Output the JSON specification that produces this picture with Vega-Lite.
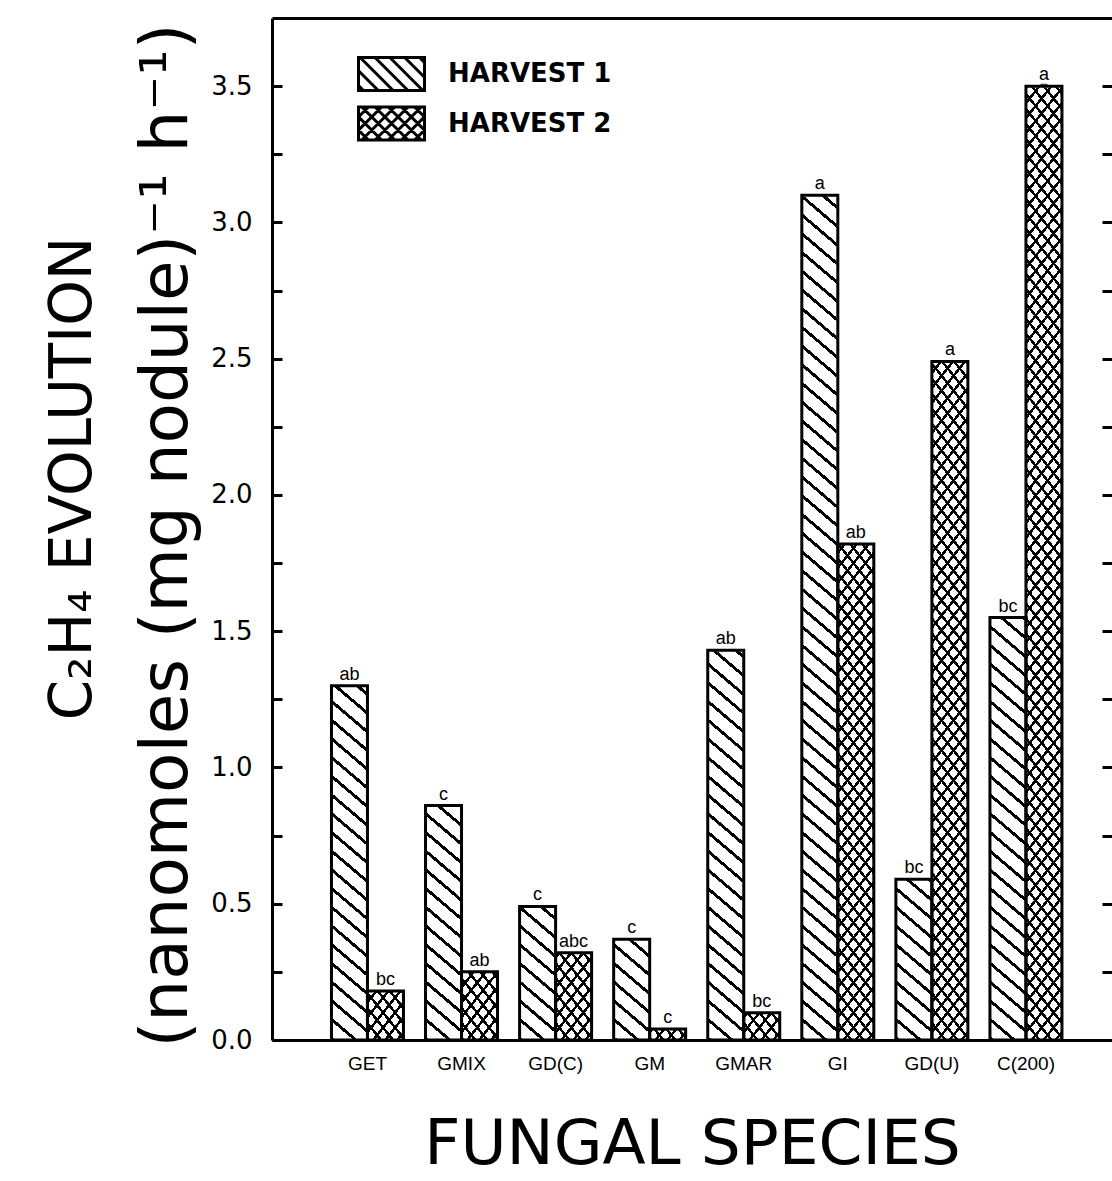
{
"$schema": "https://vega.github.io/schema/vega-lite/v6.json",
"width": 840, "height": 1022,
"autosize": {"type": "none"},
"padding": {"left": 272, "top": 18, "right": 0, "bottom": 141},
"background": "white",
"data": {"values": [
{"species": "GET", "harvest": "HARVEST 1", "value": 1.30, "letter": "ab"},
{"species": "GET", "harvest": "HARVEST 2", "value": 0.18, "letter": "bc"},
{"species": "GMIX", "harvest": "HARVEST 1", "value": 0.86, "letter": "c"},
{"species": "GMIX", "harvest": "HARVEST 2", "value": 0.25, "letter": "ab"},
{"species": "GD(C)", "harvest": "HARVEST 1", "value": 0.49, "letter": "c"},
{"species": "GD(C)", "harvest": "HARVEST 2", "value": 0.32, "letter": "abc"},
{"species": "GM", "harvest": "HARVEST 1", "value": 0.37, "letter": "c"},
{"species": "GM", "harvest": "HARVEST 2", "value": 0.04, "letter": "c"},
{"species": "GMAR", "harvest": "HARVEST 1", "value": 1.43, "letter": "ab"},
{"species": "GMAR", "harvest": "HARVEST 2", "value": 0.10, "letter": "bc"},
{"species": "GI", "harvest": "HARVEST 1", "value": 3.10, "letter": "a"},
{"species": "GI", "harvest": "HARVEST 2", "value": 1.82, "letter": "ab"},
{"species": "GD(U)", "harvest": "HARVEST 1", "value": 0.59, "letter": "bc"},
{"species": "GD(U)", "harvest": "HARVEST 2", "value": 2.49, "letter": "a"},
{"species": "C(200)", "harvest": "HARVEST 1", "value": 1.55, "letter": "bc"},
{"species": "C(200)", "harvest": "HARVEST 2", "value": 3.50, "letter": "a"}
]},
"resolve": {"axis": {"x": "independent", "y": "independent"}},
"layer": [
{
"mark": {"type": "point", "filled": false, "color": "black", "strokeWidth": 3, "size": 4},
"encoding": {
"x": {"field": "species", "type": "nominal", "axis": null},
"xOffset": {"field": "harvest", "type": "nominal"},
"y": {"field": "value", "type": "quantitative", "axis": null},
"shape": {"field": "harvest", "type": "nominal", "scale": {"domain": ["HARVEST 1", "HARVEST 2"], "range": [
"M-2,-1H2V1H-2ZM-2,0.7L-1.7,1M-2,-0.2L-0.8,1M-1.9,-1L0.1,1M-1,-1L1,1M-0.1,-1L1.9,1M0.8,-1L2,0.2M1.7,-1L2,-0.7",
"M-2,-1H2V1H-2ZM-2,0.4L-1.4,1M-2,-0.4L-0.6,1M-1.8,-1L0.2,1M-1,-1L1,1M-0.2,-1L1.8,1M0.6,-1L2,0.4M1.4,-1L2,-0.4M-2,-0.4L-1.4,-1M-2,0.4L-0.6,-1M-1.8,1L0.2,-1M-1,1L1,-1M-0.2,1L1.8,-1M0.6,1L2,-0.4M1.4,1L2,0.4"]},
"legend": {"orient": "none", "legendX": 101.5, "legendY": 38, "title": null, "padding": 0, "symbolSize": 1089, "symbolStrokeWidth": 3, "symbolStrokeColor": "black", "symbolOpacity": 1, "labelFontSize": 26, "labelFont": "DejaVu Sans", "labelFontWeight": "bold", "labelColor": "black", "labelOffset": 38.5, "labelLimit": 400, "rowPadding": 3.5}}
}
},
{
"transform": [{"filter": "datum.harvest === 'HARVEST 1'"}],
"mark": {"type": "bar", "strokeWidth": 0, "fill": {"gradient": "linear", "x1": 0, "y1": 1, "x2": 0.0331, "y2": -0.0311, "stops": [
{"offset":0,"color":"#fff"},{"offset":0,"color":"#000"},{"offset":0.004,"color":"#000"},{"offset":0.004,"color":"#fff"},
{"offset":0.019,"color":"#fff"},{"offset":0.019,"color":"#000"},{"offset":0.023,"color":"#000"},{"offset":0.023,"color":"#fff"},
{"offset":0.038,"color":"#fff"},{"offset":0.038,"color":"#000"},{"offset":0.042,"color":"#000"},{"offset":0.042,"color":"#fff"},
{"offset":0.057,"color":"#fff"},{"offset":0.057,"color":"#000"},{"offset":0.061,"color":"#000"},{"offset":0.061,"color":"#fff"},
{"offset":0.076,"color":"#fff"},{"offset":0.076,"color":"#000"},{"offset":0.08,"color":"#000"},{"offset":0.08,"color":"#fff"},
{"offset":0.095,"color":"#fff"},{"offset":0.095,"color":"#000"},{"offset":0.099,"color":"#000"},{"offset":0.099,"color":"#fff"},
{"offset":0.114,"color":"#fff"},{"offset":0.114,"color":"#000"},{"offset":0.118,"color":"#000"},{"offset":0.118,"color":"#fff"},
{"offset":0.133,"color":"#fff"},{"offset":0.133,"color":"#000"},{"offset":0.137,"color":"#000"},{"offset":0.137,"color":"#fff"},
{"offset":0.152,"color":"#fff"},{"offset":0.152,"color":"#000"},{"offset":0.156,"color":"#000"},{"offset":0.156,"color":"#fff"},
{"offset":0.171,"color":"#fff"},{"offset":0.171,"color":"#000"},{"offset":0.175,"color":"#000"},{"offset":0.175,"color":"#fff"},
{"offset":0.19,"color":"#fff"},{"offset":0.19,"color":"#000"},{"offset":0.194,"color":"#000"},{"offset":0.194,"color":"#fff"},
{"offset":0.209,"color":"#fff"},{"offset":0.209,"color":"#000"},{"offset":0.213,"color":"#000"},{"offset":0.213,"color":"#fff"},
{"offset":0.228,"color":"#fff"},{"offset":0.228,"color":"#000"},{"offset":0.232,"color":"#000"},{"offset":0.232,"color":"#fff"},
{"offset":0.247,"color":"#fff"},{"offset":0.247,"color":"#000"},{"offset":0.251,"color":"#000"},{"offset":0.251,"color":"#fff"},
{"offset":0.266,"color":"#fff"},{"offset":0.266,"color":"#000"},{"offset":0.27,"color":"#000"},{"offset":0.27,"color":"#fff"},
{"offset":0.285,"color":"#fff"},{"offset":0.285,"color":"#000"},{"offset":0.289,"color":"#000"},{"offset":0.289,"color":"#fff"},
{"offset":0.304,"color":"#fff"},{"offset":0.304,"color":"#000"},{"offset":0.308,"color":"#000"},{"offset":0.308,"color":"#fff"},
{"offset":0.323,"color":"#fff"},{"offset":0.323,"color":"#000"},{"offset":0.327,"color":"#000"},{"offset":0.327,"color":"#fff"},
{"offset":0.342,"color":"#fff"},{"offset":0.342,"color":"#000"},{"offset":0.346,"color":"#000"},{"offset":0.346,"color":"#fff"},
{"offset":0.361,"color":"#fff"},{"offset":0.361,"color":"#000"},{"offset":0.365,"color":"#000"},{"offset":0.365,"color":"#fff"},
{"offset":0.38,"color":"#fff"},{"offset":0.38,"color":"#000"},{"offset":0.384,"color":"#000"},{"offset":0.384,"color":"#fff"},
{"offset":0.399,"color":"#fff"},{"offset":0.399,"color":"#000"},{"offset":0.403,"color":"#000"},{"offset":0.403,"color":"#fff"},
{"offset":0.418,"color":"#fff"},{"offset":0.418,"color":"#000"},{"offset":0.422,"color":"#000"},{"offset":0.422,"color":"#fff"},
{"offset":0.437,"color":"#fff"},{"offset":0.437,"color":"#000"},{"offset":0.441,"color":"#000"},{"offset":0.441,"color":"#fff"},
{"offset":0.456,"color":"#fff"},{"offset":0.456,"color":"#000"},{"offset":0.46,"color":"#000"},{"offset":0.46,"color":"#fff"},
{"offset":0.475,"color":"#fff"},{"offset":0.475,"color":"#000"},{"offset":0.479,"color":"#000"},{"offset":0.479,"color":"#fff"},
{"offset":0.494,"color":"#fff"},{"offset":0.494,"color":"#000"},{"offset":0.498,"color":"#000"},{"offset":0.498,"color":"#fff"},
{"offset":0.513,"color":"#fff"},{"offset":0.513,"color":"#000"},{"offset":0.517,"color":"#000"},{"offset":0.517,"color":"#fff"},
{"offset":0.532,"color":"#fff"},{"offset":0.532,"color":"#000"},{"offset":0.536,"color":"#000"},{"offset":0.536,"color":"#fff"},
{"offset":0.551,"color":"#fff"},{"offset":0.551,"color":"#000"},{"offset":0.555,"color":"#000"},{"offset":0.555,"color":"#fff"},
{"offset":0.57,"color":"#fff"},{"offset":0.57,"color":"#000"},{"offset":0.574,"color":"#000"},{"offset":0.574,"color":"#fff"},
{"offset":0.589,"color":"#fff"},{"offset":0.589,"color":"#000"},{"offset":0.593,"color":"#000"},{"offset":0.593,"color":"#fff"},
{"offset":0.608,"color":"#fff"},{"offset":0.608,"color":"#000"},{"offset":0.612,"color":"#000"},{"offset":0.612,"color":"#fff"},
{"offset":0.627,"color":"#fff"},{"offset":0.627,"color":"#000"},{"offset":0.631,"color":"#000"},{"offset":0.631,"color":"#fff"},
{"offset":0.646,"color":"#fff"},{"offset":0.646,"color":"#000"},{"offset":0.65,"color":"#000"},{"offset":0.65,"color":"#fff"},
{"offset":0.665,"color":"#fff"},{"offset":0.665,"color":"#000"},{"offset":0.669,"color":"#000"},{"offset":0.669,"color":"#fff"},
{"offset":0.684,"color":"#fff"},{"offset":0.684,"color":"#000"},{"offset":0.688,"color":"#000"},{"offset":0.688,"color":"#fff"},
{"offset":0.703,"color":"#fff"},{"offset":0.703,"color":"#000"},{"offset":0.707,"color":"#000"},{"offset":0.707,"color":"#fff"},
{"offset":0.722,"color":"#fff"},{"offset":0.722,"color":"#000"},{"offset":0.726,"color":"#000"},{"offset":0.726,"color":"#fff"},
{"offset":0.741,"color":"#fff"},{"offset":0.741,"color":"#000"},{"offset":0.745,"color":"#000"},{"offset":0.745,"color":"#fff"},
{"offset":0.76,"color":"#fff"},{"offset":0.76,"color":"#000"},{"offset":0.764,"color":"#000"},{"offset":0.764,"color":"#fff"},
{"offset":0.779,"color":"#fff"},{"offset":0.779,"color":"#000"},{"offset":0.783,"color":"#000"},{"offset":0.783,"color":"#fff"},
{"offset":0.798,"color":"#fff"},{"offset":0.798,"color":"#000"},{"offset":0.802,"color":"#000"},{"offset":0.802,"color":"#fff"},
{"offset":0.817,"color":"#fff"},{"offset":0.817,"color":"#000"},{"offset":0.821,"color":"#000"},{"offset":0.821,"color":"#fff"},
{"offset":0.836,"color":"#fff"},{"offset":0.836,"color":"#000"},{"offset":0.84,"color":"#000"},{"offset":0.84,"color":"#fff"},
{"offset":0.855,"color":"#fff"},{"offset":0.855,"color":"#000"},{"offset":0.859,"color":"#000"},{"offset":0.859,"color":"#fff"},
{"offset":0.874,"color":"#fff"},{"offset":0.874,"color":"#000"},{"offset":0.878,"color":"#000"},{"offset":0.878,"color":"#fff"},
{"offset":0.893,"color":"#fff"},{"offset":0.893,"color":"#000"},{"offset":0.897,"color":"#000"},{"offset":0.897,"color":"#fff"},
{"offset":0.912,"color":"#fff"},{"offset":0.912,"color":"#000"},{"offset":0.916,"color":"#000"},{"offset":0.916,"color":"#fff"},
{"offset":0.931,"color":"#fff"},{"offset":0.931,"color":"#000"},{"offset":0.935,"color":"#000"},{"offset":0.935,"color":"#fff"},
{"offset":0.95,"color":"#fff"},{"offset":0.95,"color":"#000"},{"offset":0.954,"color":"#000"},{"offset":0.954,"color":"#fff"},
{"offset":0.969,"color":"#fff"},{"offset":0.969,"color":"#000"},{"offset":0.973,"color":"#000"},{"offset":0.973,"color":"#fff"},
{"offset":0.988,"color":"#fff"},{"offset":0.988,"color":"#000"},{"offset":0.992,"color":"#000"},{"offset":0.992,"color":"#fff"}
]}},
"encoding": {
"x": {"field": "species", "type": "nominal", "scale": {"domain": ["GET","GMIX","GD(C)","GM","GMAR","GI","GD(U)","C(200)"], "paddingInner": 0.2346, "paddingOuter": 0.582, "align": 0.543},
"axis": {"orient": "bottom", "title": "FUNGAL SPECIES", "titleFont": "DejaVu Sans", "titleFontSize": 63, "titleFontWeight": "normal", "titleColor": "black", "titleY": 123, "titleBaseline": "alphabetic", "labelAngle": 0, "labelFont": "Liberation Sans", "labelFontSize": 19, "labelPadding": 14, "labelColor": "black", "ticks": false, "domainWidth": 3, "domainColor": "black", "grid": false, "zindex": 1}},
"xOffset": {"field": "harvest", "type": "nominal", "scale": {"domain": ["HARVEST 1","HARVEST 2"], "paddingInner": 0, "paddingOuter": 0}},
"y": {"datum": 3.5, "type": "quantitative", "scale": {"domain": [0, 3.75], "nice": false, "zero": true},
"axis": {"orient": "left", "values": [0,0.25,0.5,0.75,1,1.25,1.5,1.75,2,2.25,2.5,2.75,3,3.25,3.5], "labelExpr": "datum.value % 0.5 === 0 ? format(datum.value, '.1f') : ''", "labelOverlap": false, "labelFlush": false, "labelFont": "DejaVu Sans", "labelFontSize": 26, "labelPadding": 30, "labelColor": "black", "tickSize": -10, "tickWidth": 3, "tickColor": "black", "domainWidth": 3, "domainColor": "black", "grid": false,
"title": "(nanomoles (mg nodule)⁻¹ h⁻¹)", "titleFont": "DejaVu Sans", "titleFontSize": 66, "titleFontWeight": "normal", "titleColor": "black", "titleAngle": 270, "titleAlign": "center", "titleBaseline": "alphabetic", "titleX": -86, "titleY": 517, "zindex": 1}},
"y2": {"datum": 0}
}
},
{
"transform": [{"filter": "datum.harvest === 'HARVEST 2'"}],
"mark": {"type": "bar", "strokeWidth": 0, "fill": {"gradient": "linear", "x1": 0, "y1": 1, "x2": 0.0493, "y2": -0.045, "stops": [
{"offset":0,"color":"#fff"},{"offset":0,"color":"#000"},{"offset":0.004,"color":"#000"},{"offset":0.004,"color":"#fff"},
{"offset":0.015,"color":"#fff"},{"offset":0.015,"color":"#000"},{"offset":0.019,"color":"#000"},{"offset":0.019,"color":"#fff"},
{"offset":0.03,"color":"#fff"},{"offset":0.03,"color":"#000"},{"offset":0.034,"color":"#000"},{"offset":0.034,"color":"#fff"},
{"offset":0.045,"color":"#fff"},{"offset":0.045,"color":"#000"},{"offset":0.049,"color":"#000"},{"offset":0.049,"color":"#fff"},
{"offset":0.06,"color":"#fff"},{"offset":0.06,"color":"#000"},{"offset":0.064,"color":"#000"},{"offset":0.064,"color":"#fff"},
{"offset":0.075,"color":"#fff"},{"offset":0.075,"color":"#000"},{"offset":0.079,"color":"#000"},{"offset":0.079,"color":"#fff"},
{"offset":0.09,"color":"#fff"},{"offset":0.09,"color":"#000"},{"offset":0.094,"color":"#000"},{"offset":0.094,"color":"#fff"},
{"offset":0.105,"color":"#fff"},{"offset":0.105,"color":"#000"},{"offset":0.109,"color":"#000"},{"offset":0.109,"color":"#fff"},
{"offset":0.12,"color":"#fff"},{"offset":0.12,"color":"#000"},{"offset":0.124,"color":"#000"},{"offset":0.124,"color":"#fff"},
{"offset":0.135,"color":"#fff"},{"offset":0.135,"color":"#000"},{"offset":0.139,"color":"#000"},{"offset":0.139,"color":"#fff"},
{"offset":0.15,"color":"#fff"},{"offset":0.15,"color":"#000"},{"offset":0.154,"color":"#000"},{"offset":0.154,"color":"#fff"},
{"offset":0.165,"color":"#fff"},{"offset":0.165,"color":"#000"},{"offset":0.169,"color":"#000"},{"offset":0.169,"color":"#fff"},
{"offset":0.18,"color":"#fff"},{"offset":0.18,"color":"#000"},{"offset":0.184,"color":"#000"},{"offset":0.184,"color":"#fff"},
{"offset":0.195,"color":"#fff"},{"offset":0.195,"color":"#000"},{"offset":0.199,"color":"#000"},{"offset":0.199,"color":"#fff"},
{"offset":0.21,"color":"#fff"},{"offset":0.21,"color":"#000"},{"offset":0.214,"color":"#000"},{"offset":0.214,"color":"#fff"},
{"offset":0.225,"color":"#fff"},{"offset":0.225,"color":"#000"},{"offset":0.229,"color":"#000"},{"offset":0.229,"color":"#fff"},
{"offset":0.24,"color":"#fff"},{"offset":0.24,"color":"#000"},{"offset":0.244,"color":"#000"},{"offset":0.244,"color":"#fff"},
{"offset":0.255,"color":"#fff"},{"offset":0.255,"color":"#000"},{"offset":0.259,"color":"#000"},{"offset":0.259,"color":"#fff"},
{"offset":0.27,"color":"#fff"},{"offset":0.27,"color":"#000"},{"offset":0.274,"color":"#000"},{"offset":0.274,"color":"#fff"},
{"offset":0.285,"color":"#fff"},{"offset":0.285,"color":"#000"},{"offset":0.289,"color":"#000"},{"offset":0.289,"color":"#fff"},
{"offset":0.3,"color":"#fff"},{"offset":0.3,"color":"#000"},{"offset":0.304,"color":"#000"},{"offset":0.304,"color":"#fff"},
{"offset":0.315,"color":"#fff"},{"offset":0.315,"color":"#000"},{"offset":0.319,"color":"#000"},{"offset":0.319,"color":"#fff"},
{"offset":0.33,"color":"#fff"},{"offset":0.33,"color":"#000"},{"offset":0.334,"color":"#000"},{"offset":0.334,"color":"#fff"},
{"offset":0.345,"color":"#fff"},{"offset":0.345,"color":"#000"},{"offset":0.349,"color":"#000"},{"offset":0.349,"color":"#fff"},
{"offset":0.36,"color":"#fff"},{"offset":0.36,"color":"#000"},{"offset":0.364,"color":"#000"},{"offset":0.364,"color":"#fff"},
{"offset":0.375,"color":"#fff"},{"offset":0.375,"color":"#000"},{"offset":0.379,"color":"#000"},{"offset":0.379,"color":"#fff"},
{"offset":0.39,"color":"#fff"},{"offset":0.39,"color":"#000"},{"offset":0.394,"color":"#000"},{"offset":0.394,"color":"#fff"},
{"offset":0.405,"color":"#fff"},{"offset":0.405,"color":"#000"},{"offset":0.409,"color":"#000"},{"offset":0.409,"color":"#fff"},
{"offset":0.42,"color":"#fff"},{"offset":0.42,"color":"#000"},{"offset":0.424,"color":"#000"},{"offset":0.424,"color":"#fff"},
{"offset":0.435,"color":"#fff"},{"offset":0.435,"color":"#000"},{"offset":0.439,"color":"#000"},{"offset":0.439,"color":"#fff"},
{"offset":0.45,"color":"#fff"},{"offset":0.45,"color":"#000"},{"offset":0.454,"color":"#000"},{"offset":0.454,"color":"#fff"},
{"offset":0.465,"color":"#fff"},{"offset":0.465,"color":"#000"},{"offset":0.469,"color":"#000"},{"offset":0.469,"color":"#fff"},
{"offset":0.48,"color":"#fff"},{"offset":0.48,"color":"#000"},{"offset":0.484,"color":"#000"},{"offset":0.484,"color":"#fff"},
{"offset":0.495,"color":"#fff"},{"offset":0.495,"color":"#000"},{"offset":0.499,"color":"#000"},{"offset":0.499,"color":"#fff"},
{"offset":0.51,"color":"#fff"},{"offset":0.51,"color":"#000"},{"offset":0.514,"color":"#000"},{"offset":0.514,"color":"#fff"},
{"offset":0.525,"color":"#fff"},{"offset":0.525,"color":"#000"},{"offset":0.529,"color":"#000"},{"offset":0.529,"color":"#fff"},
{"offset":0.54,"color":"#fff"},{"offset":0.54,"color":"#000"},{"offset":0.544,"color":"#000"},{"offset":0.544,"color":"#fff"},
{"offset":0.555,"color":"#fff"},{"offset":0.555,"color":"#000"},{"offset":0.559,"color":"#000"},{"offset":0.559,"color":"#fff"},
{"offset":0.57,"color":"#fff"},{"offset":0.57,"color":"#000"},{"offset":0.574,"color":"#000"},{"offset":0.574,"color":"#fff"},
{"offset":0.585,"color":"#fff"},{"offset":0.585,"color":"#000"},{"offset":0.589,"color":"#000"},{"offset":0.589,"color":"#fff"},
{"offset":0.6,"color":"#fff"},{"offset":0.6,"color":"#000"},{"offset":0.604,"color":"#000"},{"offset":0.604,"color":"#fff"},
{"offset":0.615,"color":"#fff"},{"offset":0.615,"color":"#000"},{"offset":0.619,"color":"#000"},{"offset":0.619,"color":"#fff"},
{"offset":0.63,"color":"#fff"},{"offset":0.63,"color":"#000"},{"offset":0.634,"color":"#000"},{"offset":0.634,"color":"#fff"},
{"offset":0.645,"color":"#fff"},{"offset":0.645,"color":"#000"},{"offset":0.649,"color":"#000"},{"offset":0.649,"color":"#fff"},
{"offset":0.66,"color":"#fff"},{"offset":0.66,"color":"#000"},{"offset":0.664,"color":"#000"},{"offset":0.664,"color":"#fff"},
{"offset":0.675,"color":"#fff"},{"offset":0.675,"color":"#000"},{"offset":0.679,"color":"#000"},{"offset":0.679,"color":"#fff"},
{"offset":0.69,"color":"#fff"},{"offset":0.69,"color":"#000"},{"offset":0.694,"color":"#000"},{"offset":0.694,"color":"#fff"},
{"offset":0.705,"color":"#fff"},{"offset":0.705,"color":"#000"},{"offset":0.709,"color":"#000"},{"offset":0.709,"color":"#fff"},
{"offset":0.72,"color":"#fff"},{"offset":0.72,"color":"#000"},{"offset":0.724,"color":"#000"},{"offset":0.724,"color":"#fff"},
{"offset":0.735,"color":"#fff"},{"offset":0.735,"color":"#000"},{"offset":0.739,"color":"#000"},{"offset":0.739,"color":"#fff"},
{"offset":0.75,"color":"#fff"},{"offset":0.75,"color":"#000"},{"offset":0.754,"color":"#000"},{"offset":0.754,"color":"#fff"},
{"offset":0.765,"color":"#fff"},{"offset":0.765,"color":"#000"},{"offset":0.769,"color":"#000"},{"offset":0.769,"color":"#fff"},
{"offset":0.78,"color":"#fff"},{"offset":0.78,"color":"#000"},{"offset":0.784,"color":"#000"},{"offset":0.784,"color":"#fff"},
{"offset":0.795,"color":"#fff"},{"offset":0.795,"color":"#000"},{"offset":0.799,"color":"#000"},{"offset":0.799,"color":"#fff"},
{"offset":0.81,"color":"#fff"},{"offset":0.81,"color":"#000"},{"offset":0.814,"color":"#000"},{"offset":0.814,"color":"#fff"},
{"offset":0.825,"color":"#fff"},{"offset":0.825,"color":"#000"},{"offset":0.829,"color":"#000"},{"offset":0.829,"color":"#fff"},
{"offset":0.84,"color":"#fff"},{"offset":0.84,"color":"#000"},{"offset":0.844,"color":"#000"},{"offset":0.844,"color":"#fff"},
{"offset":0.855,"color":"#fff"},{"offset":0.855,"color":"#000"},{"offset":0.859,"color":"#000"},{"offset":0.859,"color":"#fff"},
{"offset":0.87,"color":"#fff"},{"offset":0.87,"color":"#000"},{"offset":0.874,"color":"#000"},{"offset":0.874,"color":"#fff"},
{"offset":0.885,"color":"#fff"},{"offset":0.885,"color":"#000"},{"offset":0.889,"color":"#000"},{"offset":0.889,"color":"#fff"},
{"offset":0.9,"color":"#fff"},{"offset":0.9,"color":"#000"},{"offset":0.904,"color":"#000"},{"offset":0.904,"color":"#fff"},
{"offset":0.915,"color":"#fff"},{"offset":0.915,"color":"#000"},{"offset":0.919,"color":"#000"},{"offset":0.919,"color":"#fff"},
{"offset":0.93,"color":"#fff"},{"offset":0.93,"color":"#000"},{"offset":0.934,"color":"#000"},{"offset":0.934,"color":"#fff"},
{"offset":0.945,"color":"#fff"},{"offset":0.945,"color":"#000"},{"offset":0.949,"color":"#000"},{"offset":0.949,"color":"#fff"},
{"offset":0.96,"color":"#fff"},{"offset":0.96,"color":"#000"},{"offset":0.964,"color":"#000"},{"offset":0.964,"color":"#fff"},
{"offset":0.975,"color":"#fff"},{"offset":0.975,"color":"#000"},{"offset":0.979,"color":"#000"},{"offset":0.979,"color":"#fff"},
{"offset":0.99,"color":"#fff"},{"offset":0.99,"color":"#000"},{"offset":0.994,"color":"#000"},{"offset":0.994,"color":"#fff"}
]}},
"encoding": {
"x": {"field": "species", "type": "nominal", "axis": null},
"xOffset": {"field": "harvest", "type": "nominal"},
"y": {"datum": 3.5, "type": "quantitative", "axis": null},
"y2": {"datum": 0}
}
},
{
"transform": [{"filter": "datum.harvest === 'HARVEST 2'"}],
"mark": {"type": "bar", "strokeWidth": 0, "fill": {"gradient": "linear", "x1": 0, "y1": 0, "x2": 0.0493, "y2": 1.045, "stops": [
{"offset":0,"color":"#0000"},{"offset":0,"color":"#000"},{"offset":0.004,"color":"#000"},{"offset":0.004,"color":"#0000"},
{"offset":0.015,"color":"#0000"},{"offset":0.015,"color":"#000"},{"offset":0.019,"color":"#000"},{"offset":0.019,"color":"#0000"},
{"offset":0.03,"color":"#0000"},{"offset":0.03,"color":"#000"},{"offset":0.034,"color":"#000"},{"offset":0.034,"color":"#0000"},
{"offset":0.045,"color":"#0000"},{"offset":0.045,"color":"#000"},{"offset":0.049,"color":"#000"},{"offset":0.049,"color":"#0000"},
{"offset":0.06,"color":"#0000"},{"offset":0.06,"color":"#000"},{"offset":0.064,"color":"#000"},{"offset":0.064,"color":"#0000"},
{"offset":0.075,"color":"#0000"},{"offset":0.075,"color":"#000"},{"offset":0.079,"color":"#000"},{"offset":0.079,"color":"#0000"},
{"offset":0.09,"color":"#0000"},{"offset":0.09,"color":"#000"},{"offset":0.094,"color":"#000"},{"offset":0.094,"color":"#0000"},
{"offset":0.105,"color":"#0000"},{"offset":0.105,"color":"#000"},{"offset":0.109,"color":"#000"},{"offset":0.109,"color":"#0000"},
{"offset":0.12,"color":"#0000"},{"offset":0.12,"color":"#000"},{"offset":0.124,"color":"#000"},{"offset":0.124,"color":"#0000"},
{"offset":0.135,"color":"#0000"},{"offset":0.135,"color":"#000"},{"offset":0.139,"color":"#000"},{"offset":0.139,"color":"#0000"},
{"offset":0.15,"color":"#0000"},{"offset":0.15,"color":"#000"},{"offset":0.154,"color":"#000"},{"offset":0.154,"color":"#0000"},
{"offset":0.165,"color":"#0000"},{"offset":0.165,"color":"#000"},{"offset":0.169,"color":"#000"},{"offset":0.169,"color":"#0000"},
{"offset":0.18,"color":"#0000"},{"offset":0.18,"color":"#000"},{"offset":0.184,"color":"#000"},{"offset":0.184,"color":"#0000"},
{"offset":0.195,"color":"#0000"},{"offset":0.195,"color":"#000"},{"offset":0.199,"color":"#000"},{"offset":0.199,"color":"#0000"},
{"offset":0.21,"color":"#0000"},{"offset":0.21,"color":"#000"},{"offset":0.214,"color":"#000"},{"offset":0.214,"color":"#0000"},
{"offset":0.225,"color":"#0000"},{"offset":0.225,"color":"#000"},{"offset":0.229,"color":"#000"},{"offset":0.229,"color":"#0000"},
{"offset":0.24,"color":"#0000"},{"offset":0.24,"color":"#000"},{"offset":0.244,"color":"#000"},{"offset":0.244,"color":"#0000"},
{"offset":0.255,"color":"#0000"},{"offset":0.255,"color":"#000"},{"offset":0.259,"color":"#000"},{"offset":0.259,"color":"#0000"},
{"offset":0.27,"color":"#0000"},{"offset":0.27,"color":"#000"},{"offset":0.274,"color":"#000"},{"offset":0.274,"color":"#0000"},
{"offset":0.285,"color":"#0000"},{"offset":0.285,"color":"#000"},{"offset":0.289,"color":"#000"},{"offset":0.289,"color":"#0000"},
{"offset":0.3,"color":"#0000"},{"offset":0.3,"color":"#000"},{"offset":0.304,"color":"#000"},{"offset":0.304,"color":"#0000"},
{"offset":0.315,"color":"#0000"},{"offset":0.315,"color":"#000"},{"offset":0.319,"color":"#000"},{"offset":0.319,"color":"#0000"},
{"offset":0.33,"color":"#0000"},{"offset":0.33,"color":"#000"},{"offset":0.334,"color":"#000"},{"offset":0.334,"color":"#0000"},
{"offset":0.345,"color":"#0000"},{"offset":0.345,"color":"#000"},{"offset":0.349,"color":"#000"},{"offset":0.349,"color":"#0000"},
{"offset":0.36,"color":"#0000"},{"offset":0.36,"color":"#000"},{"offset":0.364,"color":"#000"},{"offset":0.364,"color":"#0000"},
{"offset":0.375,"color":"#0000"},{"offset":0.375,"color":"#000"},{"offset":0.379,"color":"#000"},{"offset":0.379,"color":"#0000"},
{"offset":0.39,"color":"#0000"},{"offset":0.39,"color":"#000"},{"offset":0.394,"color":"#000"},{"offset":0.394,"color":"#0000"},
{"offset":0.405,"color":"#0000"},{"offset":0.405,"color":"#000"},{"offset":0.409,"color":"#000"},{"offset":0.409,"color":"#0000"},
{"offset":0.42,"color":"#0000"},{"offset":0.42,"color":"#000"},{"offset":0.424,"color":"#000"},{"offset":0.424,"color":"#0000"},
{"offset":0.435,"color":"#0000"},{"offset":0.435,"color":"#000"},{"offset":0.439,"color":"#000"},{"offset":0.439,"color":"#0000"},
{"offset":0.45,"color":"#0000"},{"offset":0.45,"color":"#000"},{"offset":0.454,"color":"#000"},{"offset":0.454,"color":"#0000"},
{"offset":0.465,"color":"#0000"},{"offset":0.465,"color":"#000"},{"offset":0.469,"color":"#000"},{"offset":0.469,"color":"#0000"},
{"offset":0.48,"color":"#0000"},{"offset":0.48,"color":"#000"},{"offset":0.484,"color":"#000"},{"offset":0.484,"color":"#0000"},
{"offset":0.495,"color":"#0000"},{"offset":0.495,"color":"#000"},{"offset":0.499,"color":"#000"},{"offset":0.499,"color":"#0000"},
{"offset":0.51,"color":"#0000"},{"offset":0.51,"color":"#000"},{"offset":0.514,"color":"#000"},{"offset":0.514,"color":"#0000"},
{"offset":0.525,"color":"#0000"},{"offset":0.525,"color":"#000"},{"offset":0.529,"color":"#000"},{"offset":0.529,"color":"#0000"},
{"offset":0.54,"color":"#0000"},{"offset":0.54,"color":"#000"},{"offset":0.544,"color":"#000"},{"offset":0.544,"color":"#0000"},
{"offset":0.555,"color":"#0000"},{"offset":0.555,"color":"#000"},{"offset":0.559,"color":"#000"},{"offset":0.559,"color":"#0000"},
{"offset":0.57,"color":"#0000"},{"offset":0.57,"color":"#000"},{"offset":0.574,"color":"#000"},{"offset":0.574,"color":"#0000"},
{"offset":0.585,"color":"#0000"},{"offset":0.585,"color":"#000"},{"offset":0.589,"color":"#000"},{"offset":0.589,"color":"#0000"},
{"offset":0.6,"color":"#0000"},{"offset":0.6,"color":"#000"},{"offset":0.604,"color":"#000"},{"offset":0.604,"color":"#0000"},
{"offset":0.615,"color":"#0000"},{"offset":0.615,"color":"#000"},{"offset":0.619,"color":"#000"},{"offset":0.619,"color":"#0000"},
{"offset":0.63,"color":"#0000"},{"offset":0.63,"color":"#000"},{"offset":0.634,"color":"#000"},{"offset":0.634,"color":"#0000"},
{"offset":0.645,"color":"#0000"},{"offset":0.645,"color":"#000"},{"offset":0.649,"color":"#000"},{"offset":0.649,"color":"#0000"},
{"offset":0.66,"color":"#0000"},{"offset":0.66,"color":"#000"},{"offset":0.664,"color":"#000"},{"offset":0.664,"color":"#0000"},
{"offset":0.675,"color":"#0000"},{"offset":0.675,"color":"#000"},{"offset":0.679,"color":"#000"},{"offset":0.679,"color":"#0000"},
{"offset":0.69,"color":"#0000"},{"offset":0.69,"color":"#000"},{"offset":0.694,"color":"#000"},{"offset":0.694,"color":"#0000"},
{"offset":0.705,"color":"#0000"},{"offset":0.705,"color":"#000"},{"offset":0.709,"color":"#000"},{"offset":0.709,"color":"#0000"},
{"offset":0.72,"color":"#0000"},{"offset":0.72,"color":"#000"},{"offset":0.724,"color":"#000"},{"offset":0.724,"color":"#0000"},
{"offset":0.735,"color":"#0000"},{"offset":0.735,"color":"#000"},{"offset":0.739,"color":"#000"},{"offset":0.739,"color":"#0000"},
{"offset":0.75,"color":"#0000"},{"offset":0.75,"color":"#000"},{"offset":0.754,"color":"#000"},{"offset":0.754,"color":"#0000"},
{"offset":0.765,"color":"#0000"},{"offset":0.765,"color":"#000"},{"offset":0.769,"color":"#000"},{"offset":0.769,"color":"#0000"},
{"offset":0.78,"color":"#0000"},{"offset":0.78,"color":"#000"},{"offset":0.784,"color":"#000"},{"offset":0.784,"color":"#0000"},
{"offset":0.795,"color":"#0000"},{"offset":0.795,"color":"#000"},{"offset":0.799,"color":"#000"},{"offset":0.799,"color":"#0000"},
{"offset":0.81,"color":"#0000"},{"offset":0.81,"color":"#000"},{"offset":0.814,"color":"#000"},{"offset":0.814,"color":"#0000"},
{"offset":0.825,"color":"#0000"},{"offset":0.825,"color":"#000"},{"offset":0.829,"color":"#000"},{"offset":0.829,"color":"#0000"},
{"offset":0.84,"color":"#0000"},{"offset":0.84,"color":"#000"},{"offset":0.844,"color":"#000"},{"offset":0.844,"color":"#0000"},
{"offset":0.855,"color":"#0000"},{"offset":0.855,"color":"#000"},{"offset":0.859,"color":"#000"},{"offset":0.859,"color":"#0000"},
{"offset":0.87,"color":"#0000"},{"offset":0.87,"color":"#000"},{"offset":0.874,"color":"#000"},{"offset":0.874,"color":"#0000"},
{"offset":0.885,"color":"#0000"},{"offset":0.885,"color":"#000"},{"offset":0.889,"color":"#000"},{"offset":0.889,"color":"#0000"},
{"offset":0.9,"color":"#0000"},{"offset":0.9,"color":"#000"},{"offset":0.904,"color":"#000"},{"offset":0.904,"color":"#0000"},
{"offset":0.915,"color":"#0000"},{"offset":0.915,"color":"#000"},{"offset":0.919,"color":"#000"},{"offset":0.919,"color":"#0000"},
{"offset":0.93,"color":"#0000"},{"offset":0.93,"color":"#000"},{"offset":0.934,"color":"#000"},{"offset":0.934,"color":"#0000"},
{"offset":0.945,"color":"#0000"},{"offset":0.945,"color":"#000"},{"offset":0.949,"color":"#000"},{"offset":0.949,"color":"#0000"},
{"offset":0.96,"color":"#0000"},{"offset":0.96,"color":"#000"},{"offset":0.964,"color":"#000"},{"offset":0.964,"color":"#0000"},
{"offset":0.975,"color":"#0000"},{"offset":0.975,"color":"#000"},{"offset":0.979,"color":"#000"},{"offset":0.979,"color":"#0000"},
{"offset":0.99,"color":"#0000"},{"offset":0.99,"color":"#000"},{"offset":0.994,"color":"#000"},{"offset":0.994,"color":"#0000"}
]}},
"encoding": {
"x": {"field": "species", "type": "nominal", "axis": null},
"xOffset": {"field": "harvest", "type": "nominal"},
"y": {"datum": 3.5, "type": "quantitative", "axis": null},
"y2": {"datum": 0}
}
},
{
"mark": {"type": "bar", "fill": "white", "stroke": "white", "strokeWidth": 2},
"encoding": {
"x": {"field": "species", "type": "nominal", "axis": {"orient": "top", "labels": false, "ticks": false, "title": null, "domainWidth": 3, "domainColor": "black", "grid": false, "zindex": 1}},
"xOffset": {"field": "harvest", "type": "nominal"},
"y": {"field": "value", "type": "quantitative",
"axis": {"orient": "right", "values": [0,0.25,0.5,0.75,1,1.25,1.5,1.75,2,2.25,2.5,2.75,3,3.25,3.5], "labels": false, "domain": false, "tickSize": -10, "tickWidth": 3, "tickColor": "black", "grid": false,
"title": "C₂H₄ EVOLUTION", "titleFont": "DejaVu Sans", "titleFontSize": 58, "titleFontWeight": "normal", "titleColor": "black", "titleAngle": 270, "titleAlign": "center", "titleBaseline": "alphabetic", "titleX": -1022, "titleY": 460, "zindex": 1}},
"y2": {"datum": 3.5}
}
},
{
"mark": {"type": "bar", "fillOpacity": 0, "stroke": "black", "strokeWidth": 3},
"encoding": {
"x": {"field": "species", "type": "nominal", "axis": null},
"xOffset": {"field": "harvest", "type": "nominal"},
"y": {"field": "value", "type": "quantitative", "axis": null}
}
},
{
"mark": {"type": "text", "baseline": "alphabetic", "dy": -6, "fontSize": 18, "font": "Liberation Sans", "color": "black"},
"encoding": {
"x": {"field": "species", "type": "nominal", "axis": null},
"xOffset": {"field": "harvest", "type": "nominal"},
"y": {"field": "value", "type": "quantitative", "axis": null},
"text": {"field": "letter"}
}
}
],
"config": {
"font": "Liberation Sans",
"view": {"stroke": null}
}
}
